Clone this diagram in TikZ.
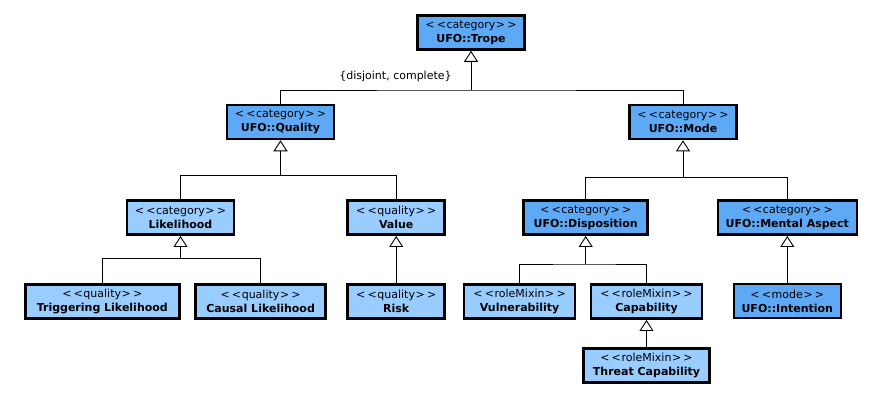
\documentclass[tikz,border=0pt]{standalone}
\usepackage{fontspec}
\setmainfont[Ligatures=NoCommon]{DejaVu Sans}
\usetikzlibrary{arrows.meta}
\definecolor{darkblue}{RGB}{94,169,246}
\definecolor{lightblue}{RGB}{153,204,255}
\newcommand{\stereo}[1]{<\kern2.2pt<\kern0.6pt#1\kern0.6pt>\kern2.2pt>}
\tikzset{
  cls/.style={draw=black, line width=2.6pt, align=center, inner sep=0pt,
    minimum height=34pt, font=\fontsize{11}{14}\selectfont},
  darkcls/.style={cls, fill=darkblue},
  lightcls/.style={cls, fill=lightblue},
  gen/.style={-{Triangle[open, width=14pt, length=11pt]}, line width=0.9pt},
  conn/.style={line width=0.9pt},
  lbl/.style={font=\fontsize{11}{13}\selectfont, inner sep=0pt}
}
\begin{document}
\begin{tikzpicture}[x=1pt,y=-1pt]
\useasboundingbox[fill=white] (0,0) rectangle (887,411);
% row 1
\node[darkcls, minimum width=107pt] (trope) at (471,32.5) {\stereo{category}\\\textbf{UFO::Trope}};
% row 2
\node[darkcls, minimum width=107pt] (quality) at (280.5,122) {\stereo{category}\\\textbf{UFO::Quality}};
\node[darkcls, minimum width=107pt] (mode) at (683,122) {\stereo{category}\\\textbf{UFO::Mode}};
% row 3
\node[lightcls, minimum width=107pt] (likelihood) at (180.5,217.7) {\stereo{category}\\\textbf{Likelihood}};
\node[lightcls, minimum width=97pt] (value) at (396.2,217.7) {\stereo{quality}\\\textbf{Value}};
\node[darkcls, minimum width=124pt] (disposition) at (585.7,217.7) {\stereo{category}\\\textbf{UFO::Disposition}};
\node[darkcls, minimum width=139pt] (mental) at (787.3,217.7) {\stereo{category}\\\textbf{UFO::Mental Aspect}};
% row 4
\node[lightcls, minimum width=154pt] (trig) at (102.3,301.7) {\stereo{quality}\\\textbf{Triggering Likelihood}};
\node[lightcls, minimum width=130pt] (causal) at (260.6,301.7) {\stereo{quality}\\\textbf{Causal Likelihood}};
\node[lightcls, minimum width=97pt] (risk) at (396.2,301.7) {\stereo{quality}\\\textbf{Risk}};
\node[lightcls, minimum width=111pt] (vuln) at (519.6,301.7) {\stereo{roleMixin}\\\textbf{Vulnerability}};
\node[lightcls, minimum width=111pt] (capab) at (646.5,301.7) {\stereo{roleMixin}\\\textbf{Capability}};
\node[darkcls, minimum width=107pt] (intention) at (787.3,301) {\stereo{mode}\\\textbf{UFO::Intention}};
% row 5
\node[lightcls, minimum width=126pt] (threat) at (646.5,365.3) {\stereo{roleMixin}\\\textbf{Threat Capability}};
% junctions
\coordinate (tj) at (471,90);
\coordinate (qj) at (280.5,175.7);
\coordinate (mj) at (683,177.3);
\coordinate (lj) at (180.5,258.3);
\coordinate (dj) at (585.7,264);
% connectors
\draw[gen] (tj) -- (trope.south);
\draw[conn] (quality.north) |- (tj) -| (mode.north);
\draw[gen] (qj) -- (quality.south);
\draw[conn] (likelihood.north) |- (qj) -| (value.north);
\draw[gen] (mj) -- (mode.south);
\draw[conn] (disposition.north) |- (mj) -| (mental.north);
\draw[gen] (lj) -- (likelihood.south);
\draw[conn] (trig.north) |- (lj) -| (causal.north);
\draw[gen] (risk.north) -- (value.south);
\draw[gen] (dj) -- (disposition.south);
\draw[conn] (vuln.north) |- (dj) -| (capab.north);
\draw[gen] (intention.north) -- (mental.south);
\draw[gen] (threat.north) -- (capab.south);
\node[lbl] (gs) at (395.5,76) {\{disjoint, complete\}};
\end{tikzpicture}
\end{document}
